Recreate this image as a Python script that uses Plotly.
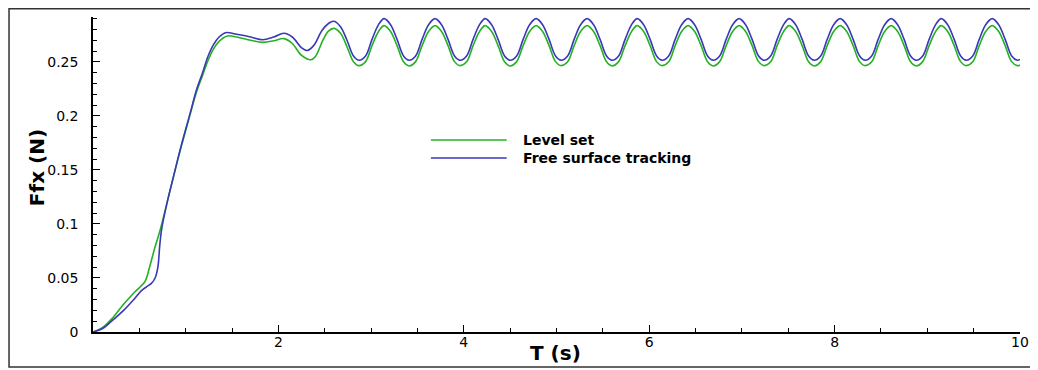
import plotly.graph_objects as go

# ---- data ----
# early (start-up) part, Free surface tracking
t_early_fst = [0.00, 0.10, 0.20, 0.33, 0.45, 0.52, 0.58, 0.63, 0.67, 0.70, 0.72, 0.74,
               0.80, 0.86, 0.95, 1.04, 1.12, 1.18, 1.24, 1.30, 1.36, 1.43, 1.55, 1.70,
               1.83, 1.95, 2.06, 2.15, 2.25, 2.31, 2.38, 2.47, 2.54]
ffx_early_fst = [0.000, 0.003, 0.010, 0.020, 0.031, 0.038, 0.042, 0.045, 0.050, 0.060, 0.080, 0.095,
                 0.120, 0.141, 0.172, 0.200, 0.225, 0.2395, 0.255, 0.266, 0.273, 0.277, 0.2755, 0.273,
                 0.2705, 0.273, 0.2765, 0.273, 0.263, 0.2605, 0.265, 0.279, 0.2855]

# early part, Level set
t_early_ls = [0.00, 0.10, 0.20, 0.33, 0.45, 0.56, 0.61, 0.665, 0.72, 0.80, 0.86, 0.95,
              1.04, 1.12, 1.18, 1.24, 1.30, 1.36, 1.45, 1.55, 1.70, 1.83, 1.95, 2.06,
              2.15, 2.25, 2.35, 2.40, 2.48, 2.54]
ffx_early_ls = [0.000, 0.004, 0.012, 0.0256, 0.037, 0.0466, 0.060, 0.0775, 0.093, 0.120, 0.141, 0.171,
                0.199, 0.223, 0.237, 0.251, 0.262, 0.269, 0.274, 0.273, 0.270, 0.268, 0.2695, 0.2715,
                0.267, 0.256, 0.252, 0.255, 0.270, 0.2785]

# periodic part (shared time samples)
t_osc = [2.60, 2.67, 2.74, 2.81, 2.87, 2.94, 3.01, 3.08,
         3.14, 3.21, 3.28, 3.35, 3.41, 3.48, 3.55, 3.62,
         3.69, 3.76, 3.83, 3.90, 3.96, 4.03, 4.10, 4.17,
         4.23, 4.30, 4.37, 4.44, 4.50, 4.57, 4.64, 4.71,
         4.78, 4.85, 4.92, 4.99, 5.05, 5.12, 5.19, 5.26,
         5.33, 5.40, 5.47, 5.54, 5.60, 5.67, 5.74, 5.81,
         5.87, 5.94, 6.01, 6.08, 6.14, 6.21, 6.28, 6.35,
         6.42, 6.49, 6.56, 6.63, 6.69, 6.76, 6.83, 6.90,
         6.97, 7.04, 7.11, 7.18, 7.24, 7.31, 7.38, 7.45,
         7.51, 7.58, 7.65, 7.72, 7.78, 7.85, 7.92, 7.99,
         8.06, 8.13, 8.20, 8.27, 8.33, 8.40, 8.47, 8.54,
         8.61, 8.68, 8.75, 8.82, 8.88, 8.95, 9.02, 9.09,
         9.15, 9.22, 9.29, 9.36, 9.42, 9.49, 9.56, 9.63,
         9.70, 9.77, 9.84, 9.91, 9.97, 10.00]

ffx_osc_fst = [0.2875, 0.2825, 0.2700, 0.2554, 0.2515, 0.2554, 0.2708, 0.2844,
               0.2900, 0.2844, 0.2708, 0.2554, 0.2515, 0.2554, 0.2708, 0.2844,
               0.2900, 0.2844, 0.2708, 0.2554, 0.2515, 0.2554, 0.2708, 0.2844,
               0.2900, 0.2844, 0.2708, 0.2554, 0.2515, 0.2554, 0.2708, 0.2844,
               0.2900, 0.2844, 0.2708, 0.2554, 0.2515, 0.2554, 0.2708, 0.2844,
               0.2900, 0.2844, 0.2708, 0.2554, 0.2515, 0.2554, 0.2708, 0.2844,
               0.2900, 0.2844, 0.2708, 0.2554, 0.2515, 0.2554, 0.2708, 0.2844,
               0.2900, 0.2844, 0.2708, 0.2554, 0.2515, 0.2554, 0.2708, 0.2844,
               0.2900, 0.2844, 0.2708, 0.2554, 0.2515, 0.2554, 0.2708, 0.2844,
               0.2900, 0.2844, 0.2708, 0.2554, 0.2515, 0.2554, 0.2708, 0.2844,
               0.2900, 0.2844, 0.2708, 0.2554, 0.2515, 0.2554, 0.2708, 0.2844,
               0.2900, 0.2844, 0.2708, 0.2554, 0.2515, 0.2554, 0.2708, 0.2844,
               0.2900, 0.2844, 0.2708, 0.2554, 0.2515, 0.2554, 0.2708, 0.2844,
               0.2900, 0.2844, 0.2708, 0.2554, 0.2515, 0.2522]

ffx_osc_ls = [0.2810, 0.2765, 0.2640, 0.2502, 0.2465, 0.2502, 0.2650, 0.2781,
              0.2835, 0.2781, 0.2650, 0.2500, 0.2462, 0.2502, 0.2650, 0.2781,
              0.2835, 0.2781, 0.2650, 0.2502, 0.2465, 0.2500, 0.2650, 0.2781,
              0.2835, 0.2781, 0.2650, 0.2500, 0.2462, 0.2502, 0.2650, 0.2781,
              0.2835, 0.2781, 0.2650, 0.2502, 0.2465, 0.2500, 0.2650, 0.2781,
              0.2835, 0.2781, 0.2650, 0.2500, 0.2462, 0.2502, 0.2650, 0.2781,
              0.2835, 0.2781, 0.2650, 0.2502, 0.2465, 0.2500, 0.2650, 0.2781,
              0.2835, 0.2781, 0.2650, 0.2500, 0.2462, 0.2502, 0.2650, 0.2781,
              0.2835, 0.2781, 0.2650, 0.2502, 0.2465, 0.2500, 0.2650, 0.2781,
              0.2835, 0.2781, 0.2650, 0.2500, 0.2462, 0.2502, 0.2650, 0.2781,
              0.2835, 0.2781, 0.2650, 0.2502, 0.2465, 0.2500, 0.2650, 0.2781,
              0.2835, 0.2781, 0.2650, 0.2500, 0.2462, 0.2502, 0.2650, 0.2781,
              0.2835, 0.2781, 0.2650, 0.2502, 0.2465, 0.2500, 0.2650, 0.2781,
              0.2835, 0.2781, 0.2650, 0.2502, 0.2465, 0.2470]

series_names = ["Level set", "Free surface tracking"]
series_colors = ["#25b025", "#3838b8"]

x_ticks = [2, 4, 6, 8, 10]
y_ticks = [0, 0.05, 0.1, 0.15, 0.2, 0.25]
y_tick_labels = ["0", "0.05", "0.1", "0.15", "0.2", "0.25"]

FONT = "DejaVu Sans"

fig = go.Figure()
fig.add_trace(go.Scatter(x=t_early_ls + t_osc, y=ffx_early_ls + ffx_osc_ls,
                         mode="lines", name=series_names[0],
                         line=dict(color=series_colors[0], width=1.6, shape="spline", smoothing=1.0),
                         showlegend=False))
fig.add_trace(go.Scatter(x=t_early_fst + t_osc, y=ffx_early_fst + ffx_osc_fst,
                         mode="lines", name=series_names[1],
                         line=dict(color=series_colors[1], width=1.6, shape="spline", smoothing=1.0),
                         showlegend=False))

# page body has an 8px margin: figure origin is at page (8, 8)
OFF = 8
W, H = 1030, 362
L, R, T, B = 85, 15, 9, 38
pw, ph = W - L - R, H - T - B

def px(xp):  # page x -> paper
    return (xp - OFF - L) / pw

def py(yp):  # page y -> paper
    return (H - B - (yp - OFF)) / ph

shapes = [
    dict(type="rect", xref="paper", yref="paper", x0=(0.75 - L) / pw, x1=px(1050),
         y0=py(367), y1=(H - B - 0.75) / ph,
         line=dict(color="#333333", width=1.5), layer="below"),
]
annotations = []
for i, (name, col) in enumerate(zip(series_names, series_colors)):
    yy = py(140 + 18 * i)
    shapes.append(dict(type="line", xref="paper", yref="paper", x0=px(432), x1=px(508), y0=yy, y1=yy,
                       line=dict(color=col, width=1.6)))
    annotations.append(dict(xref="paper", yref="paper", x=px(522), y=yy, text="<b>%s</b>" % name,
                            showarrow=False, xanchor="left", yanchor="middle",
                            font=dict(family=FONT, size=14, color="black")))
annotations.append(dict(xref="paper", yref="paper", x=px(557), y=py(353), text="<b>T (s)</b>",
                        showarrow=False, xanchor="center", yanchor="middle",
                        font=dict(family=FONT, size=20, color="black")))
annotations.append(dict(xref="paper", yref="paper", x=px(37), y=py(168), text="<b>Ffx (N)</b>",
                        showarrow=False, xanchor="center", yanchor="middle", textangle=-90,
                        font=dict(family=FONT, size=20, color="black")))

fig.update_layout(
    width=W, height=H,
    margin=dict(l=L, r=R, t=T, b=B, pad=0),
    paper_bgcolor="white", plot_bgcolor="white",
    shapes=shapes, annotations=annotations,
    showlegend=False,
    xaxis=dict(range=[0, 10], tickvals=x_ticks, ticks="inside", ticklen=7, tickwidth=1.2,
               tickcolor="black", showline=True, linecolor="black", linewidth=1.5,
               showgrid=False, zeroline=False, ticklabelstandoff=-4,
               tickfont=dict(family=FONT, size=14, color="black"),
               minor=dict(dtick=0.5, tick0=0, ticks="inside", ticklen=4, tickwidth=1, tickcolor="black")),
    yaxis=dict(range=[0, 0.2915], tickvals=y_ticks, ticktext=y_tick_labels, ticks="inside", ticklen=7,
               tickwidth=1.2, tickcolor="black", showline=True, linecolor="black", linewidth=1.5,
               showgrid=False, zeroline=False, ticklabelstandoff=10,
               tickfont=dict(family=FONT, size=14, color="black"),
               minor=dict(dtick=0.01, tick0=0, ticks="inside", ticklen=4, tickwidth=1, tickcolor="black")),
)

fig.write_html("out.html")
